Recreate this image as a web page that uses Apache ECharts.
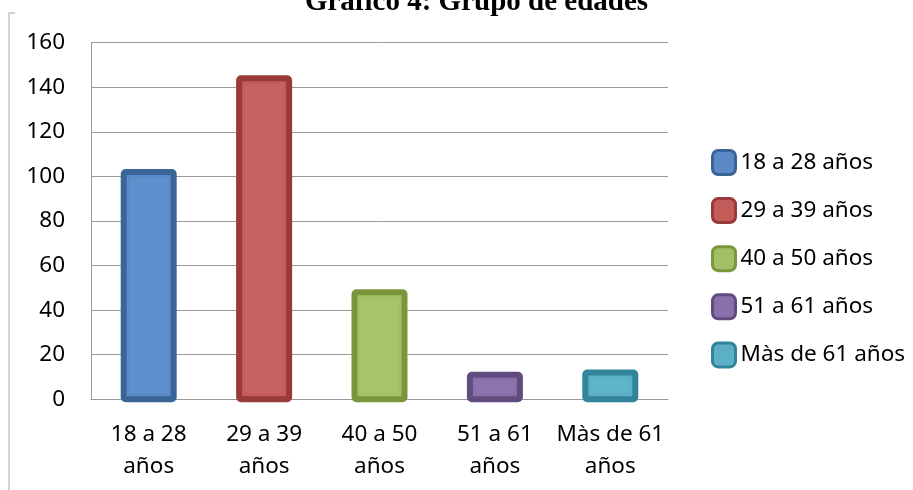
<!DOCTYPE html>
<html>
<head>
<meta charset="utf-8">
<title>Gráfico 4: Grupo de edades</title>
<script src="https://cdn.jsdelivr.net/npm/echarts@6/dist/echarts.min.js"></script>
<style>
  html, body { margin: 0; padding: 0; background: #fff; }
  #chart { width: 913px; height: 490px; }
</style>
</head>
<body>
<div id="chart"></div>
<script>
// Age groups and the number of people in each
const categories = ['18 a 28 años', '29 a 39 años', '40 a 50 años', '51 a 61 años', 'Màs de 61 años'];
const values = [102, 144, 48, 11, 12];
const yTicks = [0, 20, 40, 60, 80, 100, 120, 140, 160];

const fills = ['#5b8bc7', '#c45c5a', '#a4c066', '#8a70aa', '#5bafc7'];
const inner = ['#5f90cd', '#c86260', '#a8c46b', '#8e74ae', '#5fb4cc'];
const borders = ['#3b6597', '#973a38', '#7a963d', '#614c80', '#31849c'];

const FONT = '"Noto Sans", sans-serif';
const GRID = '#9a9a9a';
const BAR_W = 50;
const EDGE = 6;

const chart = echarts.init(document.getElementById('chart'), null, { renderer: 'canvas' });

// Bars drawn with the outline centred on the bar edge (outline straddles the
// value line and the zero line), plus a faint lighter inner panel.
function makeRenderItem(i) {
  return function (params, api) {
    const top = api.coord([api.value(0), api.value(1)]);
    const base = api.coord([api.value(0), 0]);
    const x = top[0] - BAR_W / 2;
    const h = base[1] - top[1];
    const inset = EDGE / 2 + 3;
    return {
      type: 'group',
      children: [
        {
          type: 'rect',
          shape: { x: x, y: top[1], width: BAR_W, height: h, r: 2 },
          style: { fill: fills[i], stroke: borders[i], lineWidth: EDGE }
        },
        {
          type: 'rect',
          shape: {
            x: x + inset, y: top[1] + inset,
            width: Math.max(BAR_W - 2 * inset, 0),
            height: Math.max(h - 2 * inset, 0)
          },
          style: { fill: inner[i] }
        }
      ]
    };
  };
}

const series = categories.map((name, i) => ({
  name: name,
  type: 'custom',
  renderItem: makeRenderItem(i),
  encode: { x: 0, y: 1 },
  data: [[i, values[i]]],
  itemStyle: { color: fills[i], borderColor: borders[i], borderWidth: 3 }
}));

chart.setOption({
  animation: false,
  backgroundColor: '#fff',
  textStyle: { fontFamily: FONT },
  grid: { left: 91, right: 245, top: 42.7, bottom: 90.7, containLabel: false },
  legend: {
    orient: 'vertical',
    left: 706,
    top: 144,
    itemWidth: 23,
    itemHeight: 24,
    itemGap: 21.1,
    icon: 'roundRect',
    itemStyle: { borderWidth: 3 },
    textStyle: { fontFamily: FONT, fontSize: 22.5, color: '#000' },
    data: categories
  },
  xAxis: {
    type: 'category',
    data: categories,
    axisTick: { show: false },
    axisLine: { lineStyle: { color: GRID, width: 1 } },
    axisLabel: {
      color: '#000',
      fontFamily: FONT,
      fontSize: 22.5,
      lineHeight: 32,
      margin: 19,
      interval: 0,
      formatter: v => v.replace(/ (años)$/, '\n$1')
    }
  },
  yAxis: {
    type: 'value',
    min: yTicks[0],
    max: yTicks[yTicks.length - 1],
    interval: yTicks[1] - yTicks[0],
    axisTick: { show: false },
    axisLine: { show: true, lineStyle: { color: GRID, width: 1 } },
    splitLine: { lineStyle: { color: GRID, width: 1 } },
    axisLabel: { color: '#000', fontFamily: FONT, fontSize: 22.5, margin: 26 }
  },
  series: series,
  graphic: [
    {
      type: 'text',
      z: 10,
      style: {
        x: 476.5,
        y: 3,
        text: 'Gráfico 4: Grupo de edades',
        fontFamily: '"Liberation Serif", "Times New Roman", serif',
        fontWeight: 'bold',
        fontSize: 29,
        fill: '#000',
        align: 'center',
        verticalAlign: 'middle'
      }
    },
    {
      type: 'polyline',
      z: 10,
      shape: { points: [[9, 490], [9, 13], [15, 13]] },
      style: { stroke: '#d4d4d4', lineWidth: 2, fill: null }
    }
  ]
});
</script>
</body>
</html>
